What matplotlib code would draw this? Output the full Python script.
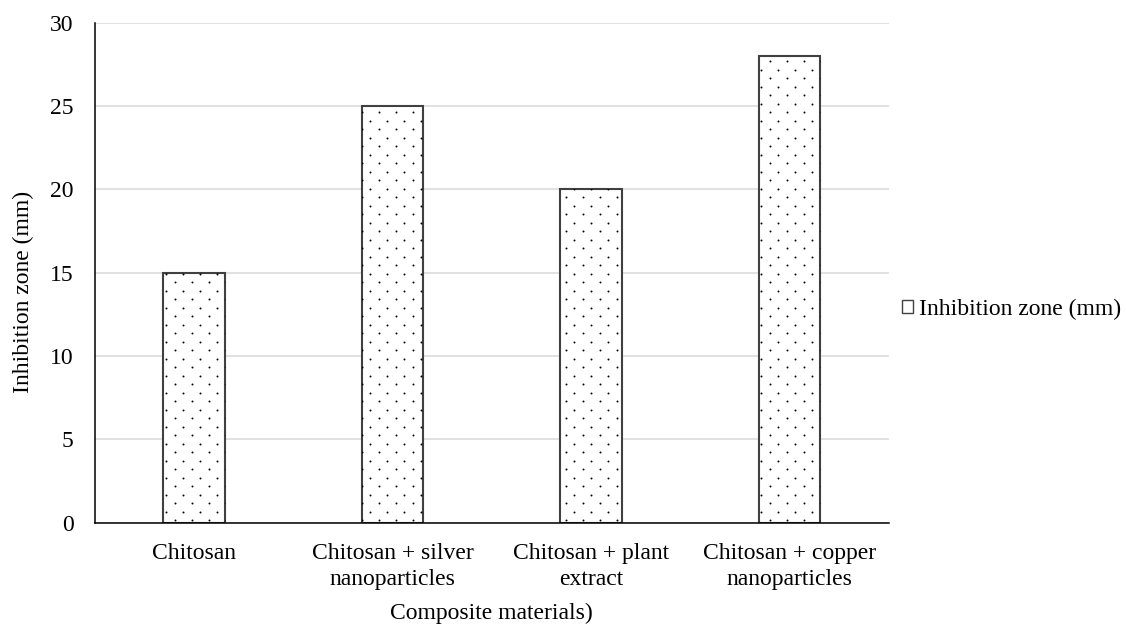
import numpy as np
import matplotlib
matplotlib.use("Agg")
import matplotlib.pyplot as plt
from matplotlib.patches import Rectangle
from matplotlib.transforms import IdentityTransform

# ---- data ----
categories = [
    "Chitosan",
    "Chitosan + silver\nnanoparticles",
    "Chitosan + plant\nextract",
    "Chitosan + copper\nnanoparticles",
]
inhibition_mm = [15, 25, 20, 28]
series_name = "Inhibition zone (mm)"
y_ticks = [0, 5, 10, 15, 20, 25, 30]
x_title = "Composite materials)"
y_title = "Inhibition zone (mm)"

plt.rcParams["font.family"] = ["Liberation Serif", "DejaVu Serif"]
FS = 17
EDGE = "#404040"

W, H, DPI = 1126, 624, 100
fig = plt.figure(figsize=(W / DPI, H / DPI), dpi=DPI)
fig.patch.set_facecolor("white")

ax_left, ax_right, ax_top, ax_bottom = 94.5, 889.0, 22.7, 522.7
ax = fig.add_axes([ax_left / W, (H - ax_bottom) / H,
                   (ax_right - ax_left) / W, (ax_bottom - ax_top) / H])

x = np.arange(len(categories))
bars = ax.bar(x, inhibition_mm, width=0.31, color="white",
              edgecolor=EDGE, linewidth=1.5, zorder=2)

# dotted fill: staggered dot lattice in pixel space, clipped to each bar
step = 17.0
x0, y0 = 166.0, H - 392.7
ii, jj = np.meshgrid(np.arange(-12, 60), np.arange(-40, 40))
gx = np.concatenate([(x0 + step * ii).ravel(), (x0 + step / 2 + step * ii).ravel()])
gy = np.concatenate([(y0 + step * jj).ravel(), (y0 + step / 2 + step * jj).ravel()])
keep = (gx > ax_left) & (gx < ax_right) & (gy > H - ax_bottom) & (gy < H - ax_top)
gx, gy = gx[keep], gy[keep]
for bar in bars:
    dots = ax.scatter(gx, gy, s=2.0, c="black", linewidths=0,
                      transform=IdentityTransform(), zorder=3)
    dots.set_clip_path(bar)

ax.set_xlim(-0.5, len(categories) - 0.5)
ax.set_ylim(0, 30)
ax.set_yticks(y_ticks)
ax.set_xticks(x)
ax.set_xticklabels(categories, fontsize=FS, linespacing=1.35)
ax.tick_params(axis="y", length=0, pad=15, labelsize=FS)
ax.tick_params(axis="x", length=0, pad=14.5)

ax.grid(axis="y", color="#d9d9d9", linewidth=1.1, zorder=0)
ax.set_axisbelow(True)
for side in ("top", "right"):
    ax.spines[side].set_visible(False)
for side in ("left", "bottom"):
    ax.spines[side].set_color("black")
    ax.spines[side].set_linewidth(1.1)
    ax.spines[side].set_zorder(4)

fig.text(491.8 / W, (H - 619.0) / H, x_title, ha="center", va="baseline", fontsize=FS)
fig.text(23 / W, (H - 292) / H, y_title, rotation=90,
         ha="center", va="center", fontsize=FS)

handle = Rectangle((0, 0), 1, 1, facecolor="white", edgecolor=EDGE, linewidth=1.0)
fig.legend([handle], [series_name], loc="center left",
           bbox_to_anchor=(902 / W, (H - 309) / H), frameon=False,
           fontsize=FS, handlelength=0.47, handleheight=0.47,
           handletextpad=0.25, borderpad=0, borderaxespad=0)

fig.savefig("out.png", dpi=DPI)
